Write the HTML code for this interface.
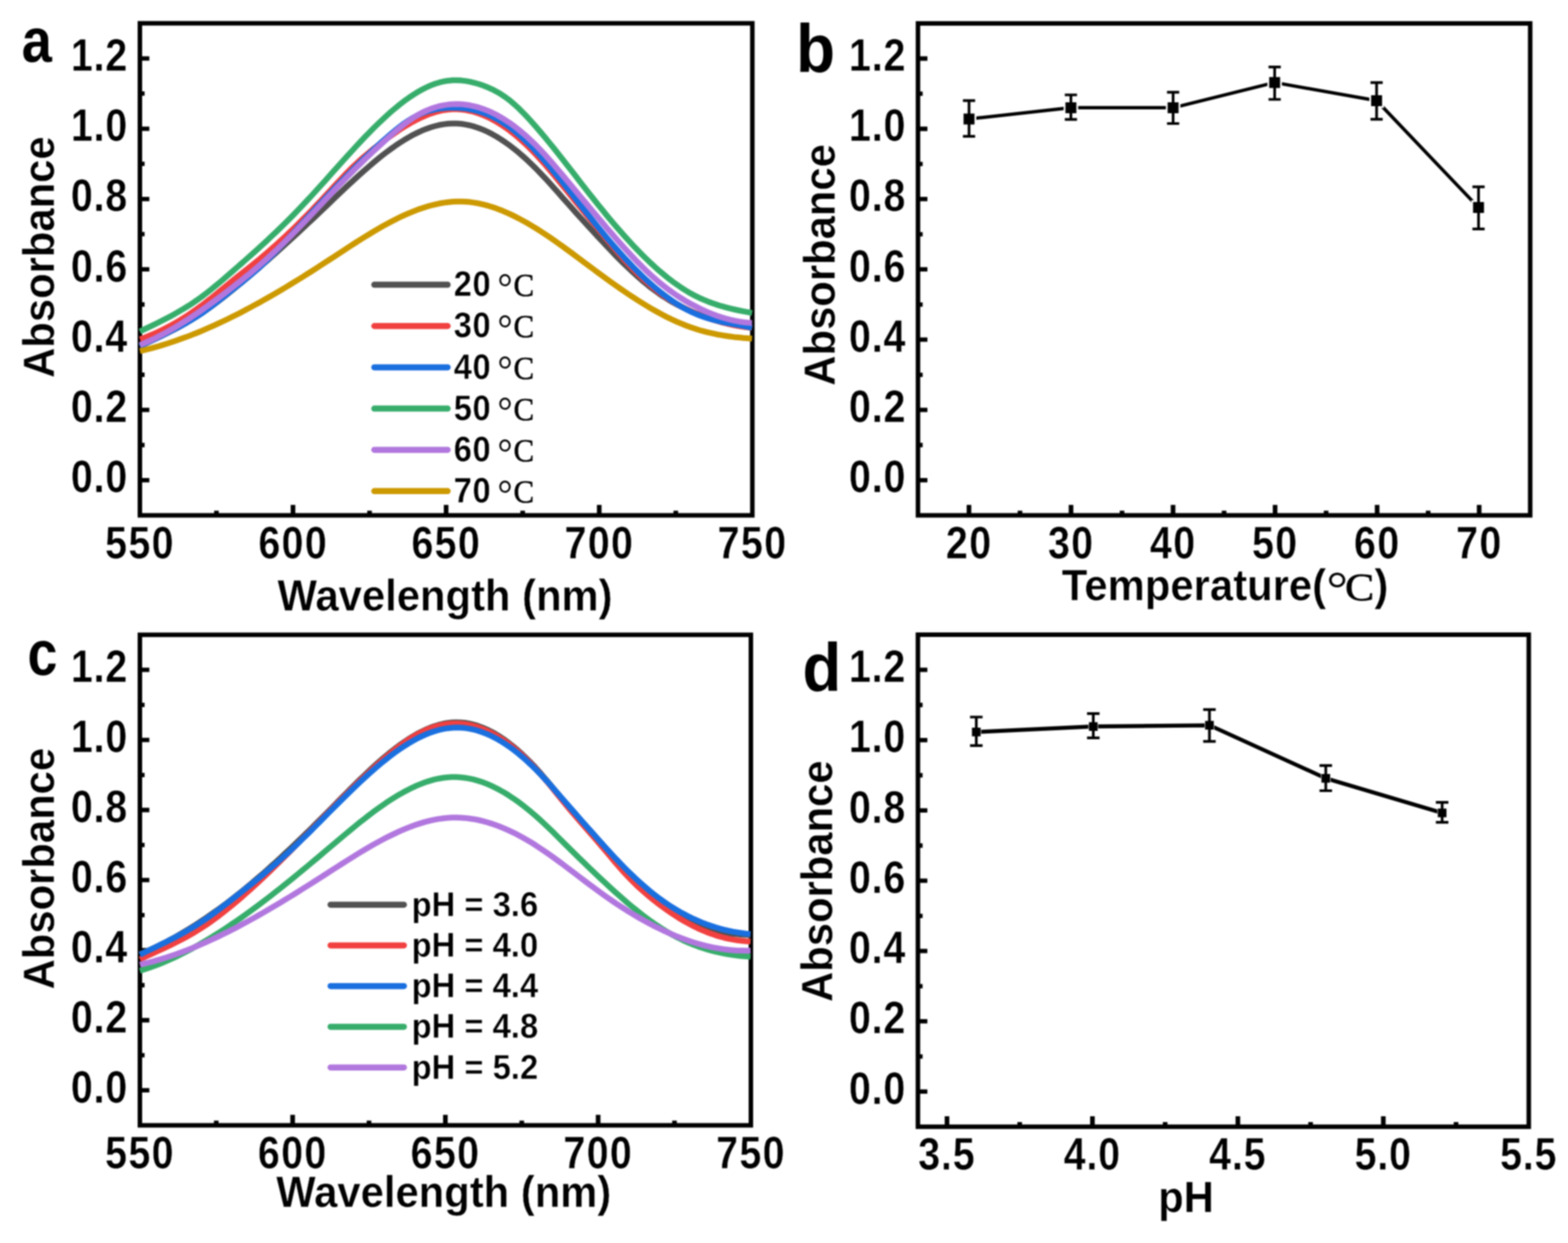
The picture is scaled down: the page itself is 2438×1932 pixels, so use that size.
<!DOCTYPE html>
<html lang="en">
<head>
<meta charset="utf-8">
<title>Absorbance vs temperature and pH</title>
<style>
html,body{margin:0;padding:0;background:#fff;}
body{width:2438px;height:1932px;overflow:hidden;}
svg{display:block;}
text{fill:#000;}
</style>
</head>
<body>
<svg xmlns="http://www.w3.org/2000/svg" width="2438" height="1932" viewBox="0 0 2438 1932">
<defs><filter id="soft" x="0" y="0" width="2438" height="1932" filterUnits="userSpaceOnUse" color-interpolation-filters="sRGB"><feGaussianBlur stdDeviation="0.85"/></filter></defs>
<rect width="2438" height="1932" fill="#fff"/>
<g filter="url(#soft)">
<rect width="2438" height="1932" fill="#fff"/>
<path d="M455.57 801V784.7M693.65 801V784.7M931.72 801V784.7M336.54 801V793.7M574.61 801V793.7M812.69 801V793.7M1050.76 801V793.7" stroke="#000" stroke-width="7.2" fill="none"/>
<path d="M217.5 746.37H232.2M217.5 691.74H224.8M217.5 637.11H232.2M217.5 582.49H224.8M217.5 527.86H232.2M217.5 473.23H224.8M217.5 418.6H232.2M217.5 363.97H224.8M217.5 309.34H232.2M217.5 254.71H224.8M217.5 200.09H232.2M217.5 145.46H224.8M217.5 90.83H232.2" stroke="#000" stroke-width="6.8" fill="none"/>
<rect x="217.5" y="36.2" width="952.3" height="764.8" fill="none" stroke="#000" stroke-width="7"/>
<path d="M217.5 538.2L224.3 535.0L231.2 531.7L238.0 528.5L244.9 525.2L251.7 521.9L258.6 518.5L265.4 515.0L272.3 511.4L279.1 507.7L286.0 503.9L292.8 499.9L299.7 495.8L306.5 491.5L313.4 487.0L320.2 482.3L327.1 477.4L333.9 472.4L340.8 467.2L347.6 461.9L354.4 456.4L361.3 450.9L368.1 445.3L375.0 439.7L381.8 434.0L388.7 428.2L395.5 422.4L402.4 416.5L409.2 410.5L416.1 404.5L422.9 398.4L429.8 392.3L436.6 386.2L443.5 380.0L450.3 373.7L457.2 367.4L464.0 361.1L470.9 354.7L477.7 348.3L484.6 341.9L491.4 335.4L498.2 328.9L505.1 322.4L511.9 315.9L518.8 309.3L525.6 302.8L532.5 296.3L539.3 289.8L546.2 283.4L553.0 277.1L559.9 270.9L566.7 264.8L573.6 258.8L580.4 253.0L587.3 247.3L594.1 241.8L601.0 236.5L607.8 231.5L614.7 226.6L621.5 222.0L628.3 217.7L635.2 213.6L642.0 209.8L648.9 206.4L655.7 203.2L662.6 200.4L669.4 198.0L676.3 196.0L683.1 194.3L690.0 193.1L696.8 192.3L703.7 191.9L710.5 192.0L717.4 192.5L724.2 193.6L731.1 195.0L737.9 196.9L744.8 199.2L751.6 201.9L758.5 205.0L765.3 208.6L772.1 212.4L779.0 216.7L785.8 221.3L792.7 226.2L799.5 231.5L806.4 237.1L813.2 243.0L820.1 249.2L826.9 255.7L833.8 262.5L840.6 269.6L847.5 276.8L854.3 284.3L861.2 291.9L868.0 299.6L874.9 307.4L881.7 315.1L888.6 322.8L895.4 330.5L902.2 338.0L909.1 345.6L915.9 353.1L922.8 360.5L929.6 367.9L936.5 375.2L943.3 382.5L950.2 389.7L957.0 396.8L963.9 403.7L970.7 410.5L977.6 417.1L984.4 423.5L991.3 429.7L998.1 435.7L1005.0 441.4L1011.8 446.9L1018.7 452.0L1025.5 456.9L1032.4 461.5L1039.2 465.8L1046.0 469.8L1052.9 473.5L1059.7 477.0L1066.6 480.3L1073.4 483.4L1080.3 486.3L1087.1 489.0L1094.0 491.6L1100.8 494.0L1107.7 496.3L1114.5 498.3L1121.4 500.3L1128.2 502.0L1135.1 503.6L1141.9 505.1L1148.8 506.4L1155.6 507.5L1162.5 508.5L1169.3 509.4" fill="none" stroke="#515151" stroke-width="9" stroke-linejoin="round"/>
<path d="M217.5 527.3L224.3 524.9L231.2 522.2L238.0 519.3L244.9 516.3L251.7 513.0L258.6 509.6L265.4 506.0L272.3 502.1L279.1 498.1L286.0 493.9L292.8 489.5L299.7 484.8L306.5 480.0L313.4 475.0L320.2 469.7L327.1 464.4L333.9 458.9L340.8 453.3L347.6 447.7L354.4 442.1L361.3 436.5L368.1 431.0L375.0 425.6L381.8 420.2L388.7 414.8L395.5 409.3L402.4 403.7L409.2 398.0L416.1 392.2L422.9 386.2L429.8 380.1L436.6 373.9L443.5 367.5L450.3 361.0L457.2 354.4L464.0 347.7L470.9 340.8L477.7 333.9L484.6 326.9L491.4 319.7L498.2 312.5L505.1 305.2L511.9 297.8L518.8 290.4L525.6 283.0L532.5 275.8L539.3 268.7L546.2 261.8L553.0 255.2L559.9 248.9L566.7 242.9L573.6 237.1L580.4 231.6L587.3 226.2L594.1 221.0L601.0 215.9L607.8 211.0L614.7 206.2L621.5 201.6L628.3 197.2L635.2 193.1L642.0 189.2L648.9 185.6L655.7 182.3L662.6 179.3L669.4 176.6L676.3 174.4L683.1 172.6L690.0 171.2L696.8 170.2L703.7 169.8L710.5 169.8L717.4 170.2L724.2 171.1L731.1 172.5L737.9 174.2L744.8 176.5L751.6 179.1L758.5 182.1L765.3 185.6L772.1 189.4L779.0 193.6L785.8 198.2L792.7 203.2L799.5 208.6L806.4 214.3L813.2 220.4L820.1 226.8L826.9 233.6L833.8 240.7L840.6 248.1L847.5 255.8L854.3 263.7L861.2 271.9L868.0 280.2L874.9 288.6L881.7 297.0L888.6 305.4L895.4 313.8L902.2 322.2L909.1 330.5L915.9 338.9L922.8 347.2L929.6 355.5L936.5 363.8L943.3 372.0L950.2 380.2L957.0 388.2L963.9 396.1L970.7 403.7L977.6 411.2L984.4 418.3L991.3 425.2L998.1 431.8L1005.0 438.0L1011.8 444.0L1018.7 449.6L1025.5 454.9L1032.4 459.9L1039.2 464.5L1046.0 468.8L1052.9 472.8L1059.7 476.6L1066.6 480.1L1073.4 483.4L1080.3 486.4L1087.1 489.3L1094.0 492.0L1100.8 494.5L1107.7 496.7L1114.5 498.8L1121.4 500.8L1128.2 502.5L1135.1 504.1L1141.9 505.5L1148.8 506.7L1155.6 507.8L1162.5 508.8L1169.3 509.5" fill="none" stroke="#F14040" stroke-width="9" stroke-linejoin="round"/>
<path d="M217.5 538.2L224.3 534.8L231.2 531.5L238.0 528.2L244.9 524.9L251.7 521.6L258.6 518.2L265.4 514.8L272.3 511.3L279.1 507.7L286.0 504.0L292.8 500.1L299.7 496.0L306.5 491.7L313.4 487.2L320.2 482.4L327.1 477.4L333.9 472.2L340.8 466.9L347.6 461.5L354.4 456.1L361.3 450.6L368.1 445.1L375.0 439.7L381.8 434.1L388.7 428.4L395.5 422.6L402.4 416.6L409.2 410.3L416.1 403.7L422.9 396.9L429.8 389.9L436.6 382.7L443.5 375.4L450.3 368.0L457.2 360.6L464.0 353.1L470.9 345.7L477.7 338.3L484.6 330.9L491.4 323.5L498.2 316.2L505.1 308.8L511.9 301.6L518.8 294.3L525.6 287.2L532.5 280.1L539.3 273.0L546.2 266.1L553.0 259.2L559.9 252.4L566.7 245.7L573.6 239.2L580.4 232.7L587.3 226.3L594.1 220.1L601.0 214.0L607.8 208.1L614.7 202.4L621.5 197.0L628.3 191.9L635.2 187.3L642.0 183.1L648.9 179.4L655.7 176.4L662.6 173.8L669.4 171.8L676.3 170.1L683.1 168.9L690.0 168.1L696.8 167.5L703.7 167.3L710.5 167.4L717.4 167.9L724.2 168.6L731.1 169.8L737.9 171.3L744.8 173.2L751.6 175.5L758.5 178.1L765.3 181.2L772.1 184.7L779.0 188.7L785.8 193.1L792.7 197.9L799.5 203.2L806.4 209.0L813.2 215.1L820.1 221.6L826.9 228.4L833.8 235.6L840.6 243.0L847.5 250.7L854.3 258.6L861.2 266.8L868.0 275.1L874.9 283.5L881.7 292.1L888.6 300.8L895.4 309.5L902.2 318.2L909.1 326.9L915.9 335.6L922.8 344.2L929.6 352.7L936.5 361.1L943.3 369.3L950.2 377.4L957.0 385.3L963.9 393.0L970.7 400.6L977.6 407.9L984.4 415.1L991.3 422.0L998.1 428.7L1005.0 435.2L1011.8 441.4L1018.7 447.3L1025.5 453.0L1032.4 458.4L1039.2 463.4L1046.0 468.2L1052.9 472.7L1059.7 476.8L1066.6 480.7L1073.4 484.1L1080.3 487.2L1087.1 490.0L1094.0 492.4L1100.8 494.6L1107.7 496.6L1114.5 498.4L1121.4 500.0L1128.2 501.5L1135.1 502.8L1141.9 504.1L1148.8 505.4L1155.6 506.7L1162.5 508.0L1169.3 509.4" fill="none" stroke="#1A6FDF" stroke-width="9" stroke-linejoin="round"/>
<path d="M217.5 515.2L224.3 511.9L231.2 508.7L238.0 505.4L244.9 502.0L251.7 498.5L258.6 495.0L265.4 491.4L272.3 487.6L279.1 483.7L286.0 479.6L292.8 475.4L299.7 470.9L306.5 466.3L313.4 461.4L320.2 456.2L327.1 450.9L333.9 445.3L340.8 439.6L347.6 433.8L354.4 427.9L361.3 422.0L368.1 416.0L375.0 410.0L381.8 404.0L388.7 397.9L395.5 391.8L402.4 385.6L409.2 379.4L416.1 373.1L422.9 366.6L429.8 360.1L436.6 353.5L443.5 346.8L450.3 340.0L457.2 333.0L464.0 325.9L470.9 318.7L477.7 311.4L484.6 304.0L491.4 296.5L498.2 289.0L505.1 281.4L511.9 273.8L518.8 266.1L525.6 258.5L532.5 250.8L539.3 243.2L546.2 235.7L553.0 228.3L559.9 220.9L566.7 213.7L573.6 206.6L580.4 199.7L587.3 192.9L594.1 186.4L601.0 180.0L607.8 173.9L614.7 168.1L621.5 162.5L628.3 157.2L635.2 152.3L642.0 147.7L648.9 143.4L655.7 139.5L662.6 136.0L669.4 132.9L676.3 130.3L683.1 128.2L690.0 126.5L696.8 125.4L703.7 124.8L710.5 124.7L717.4 125.1L724.2 125.9L731.1 127.2L737.9 128.8L744.8 130.8L751.6 133.1L758.5 135.8L765.3 138.8L772.1 142.4L779.0 146.4L785.8 151.0L792.7 156.2L799.5 162.0L806.4 168.3L813.2 175.1L820.1 182.2L826.9 189.7L833.8 197.5L840.6 205.5L847.5 213.6L854.3 222.0L861.2 230.4L868.0 239.0L874.9 247.7L881.7 256.5L888.6 265.3L895.4 274.1L902.2 282.9L909.1 291.7L915.9 300.4L922.8 309.1L929.6 317.7L936.5 326.2L943.3 334.6L950.2 342.8L957.0 350.9L963.9 358.8L970.7 366.5L977.6 374.1L984.4 381.5L991.3 388.7L998.1 395.6L1005.0 402.4L1011.8 408.9L1018.7 415.2L1025.5 421.3L1032.4 427.0L1039.2 432.6L1046.0 437.8L1052.9 442.7L1059.7 447.4L1066.6 451.7L1073.4 455.8L1080.3 459.4L1087.1 462.8L1094.0 465.9L1100.8 468.7L1107.7 471.3L1114.5 473.6L1121.4 475.7L1128.2 477.6L1135.1 479.4L1141.9 481.0L1148.8 482.5L1155.6 483.9L1162.5 485.2L1169.3 486.5" fill="none" stroke="#37AD6B" stroke-width="9" stroke-linejoin="round"/>
<path d="M217.5 536.2L224.3 533.4L231.2 530.4L238.0 527.2L244.9 523.8L251.7 520.3L258.6 516.6L265.4 512.8L272.3 508.8L279.1 504.7L286.0 500.4L292.8 496.1L299.7 491.6L306.5 487.0L313.4 482.2L320.2 477.4L327.1 472.5L333.9 467.5L340.8 462.4L347.6 457.3L354.4 452.0L361.3 446.7L368.1 441.4L375.0 436.0L381.8 430.5L388.7 424.9L395.5 419.2L402.4 413.3L409.2 407.3L416.1 401.2L422.9 394.9L429.8 388.5L436.6 382.0L443.5 375.3L450.3 368.5L457.2 361.6L464.0 354.6L470.9 347.5L477.7 340.4L484.6 333.2L491.4 326.0L498.2 318.7L505.1 311.4L511.9 304.1L518.8 296.9L525.6 289.7L532.5 282.6L539.3 275.5L546.2 268.5L553.0 261.6L559.9 254.9L566.7 248.2L573.6 241.7L580.4 235.3L587.3 228.9L594.1 222.6L601.0 216.4L607.8 210.3L614.7 204.4L621.5 198.7L628.3 193.3L635.2 188.2L642.0 183.5L648.9 179.2L655.7 175.4L662.6 172.1L669.4 169.3L676.3 167.0L683.1 165.0L690.0 163.6L696.8 162.6L703.7 162.0L710.5 161.8L717.4 162.1L724.2 162.7L731.1 163.8L737.9 165.3L744.8 167.2L751.6 169.5L758.5 172.1L765.3 175.2L772.1 178.6L779.0 182.5L785.8 186.7L792.7 191.2L799.5 196.2L806.4 201.5L813.2 207.2L820.1 213.2L826.9 219.6L833.8 226.3L840.6 233.4L847.5 240.8L854.3 248.5L861.2 256.3L868.0 264.4L874.9 272.5L881.7 280.7L888.6 288.9L895.4 297.1L902.2 305.3L909.1 313.5L915.9 321.7L922.8 329.8L929.6 337.9L936.5 346.0L943.3 354.1L950.2 362.0L957.0 369.9L963.9 377.7L970.7 385.3L977.6 392.8L984.4 400.1L991.3 407.3L998.1 414.2L1005.0 420.9L1011.8 427.3L1018.7 433.4L1025.5 439.3L1032.4 444.8L1039.2 450.0L1046.0 454.9L1052.9 459.6L1059.7 463.9L1066.6 468.1L1073.4 472.0L1080.3 475.6L1087.1 479.1L1094.0 482.3L1100.8 485.3L1107.7 488.1L1114.5 490.7L1121.4 493.0L1128.2 495.0L1135.1 496.8L1141.9 498.4L1148.8 499.7L1155.6 500.7L1162.5 501.5L1169.3 501.9" fill="none" stroke="#B177DE" stroke-width="9" stroke-linejoin="round"/>
<path d="M217.5 545.7L224.3 544.1L231.2 542.4L238.0 540.6L244.9 538.7L251.7 536.6L258.6 534.5L265.4 532.3L272.3 530.0L279.1 527.6L286.0 525.1L292.8 522.6L299.7 519.9L306.5 517.2L313.4 514.3L320.2 511.4L327.1 508.4L333.9 505.3L340.8 502.2L347.6 499.0L354.4 495.7L361.3 492.3L368.1 488.9L375.0 485.4L381.8 481.8L388.7 478.1L395.5 474.4L402.4 470.7L409.2 466.9L416.1 463.0L422.9 459.1L429.8 455.1L436.6 451.1L443.5 447.0L450.3 442.8L457.2 438.7L464.0 434.5L470.9 430.2L477.7 425.9L484.6 421.6L491.4 417.2L498.2 412.8L505.1 408.3L511.9 403.9L518.8 399.4L525.6 394.9L532.5 390.4L539.3 385.9L546.2 381.5L553.0 377.1L559.9 372.8L566.7 368.5L573.6 364.3L580.4 360.1L587.3 356.1L594.1 352.2L601.0 348.4L607.8 344.7L614.7 341.2L621.5 337.8L628.3 334.6L635.2 331.6L642.0 328.8L648.9 326.1L655.7 323.7L662.6 321.5L669.4 319.5L676.3 317.8L683.1 316.3L690.0 315.1L696.8 314.2L703.7 313.6L710.5 313.2L717.4 313.2L724.2 313.5L731.1 314.1L737.9 315.1L744.8 316.3L751.6 317.9L758.5 319.7L765.3 321.8L772.1 324.1L779.0 326.7L785.8 329.6L792.7 332.6L799.5 335.9L806.4 339.4L813.2 343.1L820.1 346.9L826.9 351.0L833.8 355.2L840.6 359.5L847.5 364.0L854.3 368.6L861.2 373.3L868.0 378.1L874.9 383.0L881.7 388.0L888.6 393.0L895.4 398.1L902.2 403.2L909.1 408.3L915.9 413.4L922.8 418.5L929.6 423.6L936.5 428.6L943.3 433.6L950.2 438.6L957.0 443.4L963.9 448.2L970.7 452.9L977.6 457.6L984.4 462.1L991.3 466.5L998.1 470.8L1005.0 475.0L1011.8 479.1L1018.7 483.0L1025.5 486.8L1032.4 490.4L1039.2 493.9L1046.0 497.2L1052.9 500.3L1059.7 503.2L1066.6 506.0L1073.4 508.5L1080.3 510.8L1087.1 513.0L1094.0 514.9L1100.8 516.7L1107.7 518.2L1114.5 519.7L1121.4 520.9L1128.2 522.0L1135.1 523.0L1141.9 523.9L1148.8 524.6L1155.6 525.3L1162.5 525.8L1169.3 526.3" fill="none" stroke="#CC9900" stroke-width="9" stroke-linejoin="round"/>
<text font-family='"Liberation Sans", sans-serif' font-size="66.5" font-weight="bold" text-anchor="end" letter-spacing="1.4" stroke="#fff" stroke-width="0.5" transform="translate(199.19 765.27) scale(0.92 1.055)">0.0</text>
<text font-family='"Liberation Sans", sans-serif' font-size="66.5" font-weight="bold" text-anchor="end" letter-spacing="1.4" stroke="#fff" stroke-width="0.5" transform="translate(199.19 656.01) scale(0.92 1.055)">0.2</text>
<text font-family='"Liberation Sans", sans-serif' font-size="66.5" font-weight="bold" text-anchor="end" letter-spacing="1.4" stroke="#fff" stroke-width="0.5" transform="translate(199.19 546.76) scale(0.92 1.055)">0.4</text>
<text font-family='"Liberation Sans", sans-serif' font-size="66.5" font-weight="bold" text-anchor="end" letter-spacing="1.4" stroke="#fff" stroke-width="0.5" transform="translate(199.19 437.5) scale(0.92 1.055)">0.6</text>
<text font-family='"Liberation Sans", sans-serif' font-size="66.5" font-weight="bold" text-anchor="end" letter-spacing="1.4" stroke="#fff" stroke-width="0.5" transform="translate(199.19 328.24) scale(0.92 1.055)">0.8</text>
<text font-family='"Liberation Sans", sans-serif' font-size="66.5" font-weight="bold" text-anchor="end" letter-spacing="1.4" stroke="#fff" stroke-width="0.5" transform="translate(199.19 218.99) scale(0.92 1.055)">1.0</text>
<text font-family='"Liberation Sans", sans-serif' font-size="66.5" font-weight="bold" text-anchor="end" letter-spacing="1.4" stroke="#fff" stroke-width="0.5" transform="translate(199.19 109.73) scale(0.92 1.055)">1.2</text>
<text font-family='"Liberation Sans", sans-serif' font-size="66.5" font-weight="bold" text-anchor="middle" letter-spacing="2.3" stroke="#fff" stroke-width="0.5" transform="translate(217.76 867.6) scale(0.92 1.055)">550</text>
<text font-family='"Liberation Sans", sans-serif' font-size="66.5" font-weight="bold" text-anchor="middle" letter-spacing="2.3" stroke="#fff" stroke-width="0.5" transform="translate(455.83 867.6) scale(0.92 1.055)">600</text>
<text font-family='"Liberation Sans", sans-serif' font-size="66.5" font-weight="bold" text-anchor="middle" letter-spacing="2.3" stroke="#fff" stroke-width="0.5" transform="translate(693.91 867.6) scale(0.92 1.055)">650</text>
<text font-family='"Liberation Sans", sans-serif' font-size="66.5" font-weight="bold" text-anchor="middle" letter-spacing="2.3" stroke="#fff" stroke-width="0.5" transform="translate(931.98 867.6) scale(0.92 1.055)">700</text>
<text font-family='"Liberation Sans", sans-serif' font-size="66.5" font-weight="bold" text-anchor="middle" letter-spacing="2.3" stroke="#fff" stroke-width="0.5" transform="translate(1170.06 867.6) scale(0.92 1.055)">750</text>
<text transform="translate(83.7 399.6) rotate(-90) scale(0.98 1.04)" font-family='"Liberation Sans", sans-serif' font-size="66.3" font-weight="bold" text-anchor="middle" stroke="#fff" stroke-width="0.5">Absorbance</text>
<text font-family='"Liberation Sans", sans-serif' font-size="66.3" font-weight="bold" text-anchor="middle" stroke="#fff" stroke-width="0.5" transform="translate(692 948.5) scale(0.98 1.04)">Wavelength (nm)</text>
<path d="M582 442.6H696" stroke="#515151" stroke-width="9.5" stroke-linecap="round"/>
<text font-family='"Liberation Sans", sans-serif' font-size="53.2" font-weight="bold" text-anchor="start" letter-spacing="1.2" stroke="#fff" stroke-width="0.5" transform="translate(705.5 460.2) scale(0.95 1.05)">20</text>
<text transform="translate(773.5 460.2) scale(1 1.04)" font-family='"Liberation Serif", serif' font-size="48" stroke="#000" stroke-width="0.7"><tspan font-size="58.56" dy="6.5" stroke-width="0">°</tspan><tspan dy="-6.5" dx="1.5">C</tspan></text>
<path d="M582 506.75H696" stroke="#F14040" stroke-width="9.5" stroke-linecap="round"/>
<text font-family='"Liberation Sans", sans-serif' font-size="53.2" font-weight="bold" text-anchor="start" letter-spacing="1.2" stroke="#fff" stroke-width="0.5" transform="translate(705.5 524.35) scale(0.95 1.05)">30</text>
<text transform="translate(773.5 524.35) scale(1 1.04)" font-family='"Liberation Serif", serif' font-size="48" stroke="#000" stroke-width="0.7"><tspan font-size="58.56" dy="6.5" stroke-width="0">°</tspan><tspan dy="-6.5" dx="1.5">C</tspan></text>
<path d="M582 570.9H696" stroke="#1A6FDF" stroke-width="9.5" stroke-linecap="round"/>
<text font-family='"Liberation Sans", sans-serif' font-size="53.2" font-weight="bold" text-anchor="start" letter-spacing="1.2" stroke="#fff" stroke-width="0.5" transform="translate(705.5 588.5) scale(0.95 1.05)">40</text>
<text transform="translate(773.5 588.5) scale(1 1.04)" font-family='"Liberation Serif", serif' font-size="48" stroke="#000" stroke-width="0.7"><tspan font-size="58.56" dy="6.5" stroke-width="0">°</tspan><tspan dy="-6.5" dx="1.5">C</tspan></text>
<path d="M582 635.05H696" stroke="#37AD6B" stroke-width="9.5" stroke-linecap="round"/>
<text font-family='"Liberation Sans", sans-serif' font-size="53.2" font-weight="bold" text-anchor="start" letter-spacing="1.2" stroke="#fff" stroke-width="0.5" transform="translate(705.5 652.65) scale(0.95 1.05)">50</text>
<text transform="translate(773.5 652.65) scale(1 1.04)" font-family='"Liberation Serif", serif' font-size="48" stroke="#000" stroke-width="0.7"><tspan font-size="58.56" dy="6.5" stroke-width="0">°</tspan><tspan dy="-6.5" dx="1.5">C</tspan></text>
<path d="M582 699.2H696" stroke="#B177DE" stroke-width="9.5" stroke-linecap="round"/>
<text font-family='"Liberation Sans", sans-serif' font-size="53.2" font-weight="bold" text-anchor="start" letter-spacing="1.2" stroke="#fff" stroke-width="0.5" transform="translate(705.5 716.8) scale(0.95 1.05)">60</text>
<text transform="translate(773.5 716.8) scale(1 1.04)" font-family='"Liberation Serif", serif' font-size="48" stroke="#000" stroke-width="0.7"><tspan font-size="58.56" dy="6.5" stroke-width="0">°</tspan><tspan dy="-6.5" dx="1.5">C</tspan></text>
<path d="M582 763.35H696" stroke="#CC9900" stroke-width="9.5" stroke-linecap="round"/>
<text font-family='"Liberation Sans", sans-serif' font-size="53.2" font-weight="bold" text-anchor="start" letter-spacing="1.2" stroke="#fff" stroke-width="0.5" transform="translate(705.5 780.95) scale(0.95 1.05)">70</text>
<text transform="translate(773.5 780.95) scale(1 1.04)" font-family='"Liberation Serif", serif' font-size="48" stroke="#000" stroke-width="0.7"><tspan font-size="58.56" dy="6.5" stroke-width="0">°</tspan><tspan dy="-6.5" dx="1.5">C</tspan></text>
<text font-family='"Liberation Sans", sans-serif' font-size="96.7" font-weight="bold" text-anchor="middle" transform="translate(57.1 95.6) scale(0.873 1)">a</text>
<path d="M1506.62 801V784.7M1665.27 801V784.7M1823.92 801V784.7M1982.57 801V784.7M2141.22 801V784.7M2299.88 801V784.7M1585.95 801V793.7M1744.6 801V793.7M1903.25 801V793.7M2061.9 801V793.7M2220.55 801V793.7" stroke="#000" stroke-width="7.2" fill="none"/>
<path d="M1427.3 746.39H1442M1427.3 691.77H1434.6M1427.3 637.16H1442M1427.3 582.54H1434.6M1427.3 527.93H1442M1427.3 473.31H1434.6M1427.3 418.7H1442M1427.3 364.09H1434.6M1427.3 309.47H1442M1427.3 254.86H1434.6M1427.3 200.24H1442M1427.3 145.63H1434.6M1427.3 91.01H1442" stroke="#000" stroke-width="6.8" fill="none"/>
<rect x="1427.3" y="36.4" width="951.9" height="764.6" fill="none" stroke="#000" stroke-width="7"/>
<path d="M1506.7 184.9L1665.1 167.4L1824 167.4L1981.9 128.3L2140.4 156.4L2298.9 322.6" fill="none" stroke="#000" stroke-width="5.2" stroke-linejoin="round"/>
<path d="M1495.4 173.6h22.6v22.6h-22.6zM1653.8 156.1h22.6v22.6h-22.6zM1812.7 156.1h22.6v22.6h-22.6zM1970.6 117h22.6v22.6h-22.6zM2129.1 145.1h22.6v22.6h-22.6zM2287.6 311.3h22.6v22.6h-22.6z" fill="#fff"/>
<path d="M1506.7 156.4V211.8M1497.2 156.4H1516.2M1497.2 211.8H1516.2M1665.1 147.5V185.6M1655.6 147.5H1674.6M1655.6 185.6H1674.6M1824 143.3V192M1814.5 143.3H1833.5M1814.5 192H1833.5M1981.9 104.2V154.5M1972.4 104.2H1991.4M1972.4 154.5H1991.4M2140.4 128.3V185.4M2130.9 128.3H2149.9M2130.9 185.4H2149.9M2298.9 290.3V355.8M2289.4 290.3H2308.4M2289.4 355.8H2308.4" fill="none" stroke="#000" stroke-width="4.2"/>
<path d="M1498.2 176.4h17v17h-17zM1656.6 158.9h17v17h-17zM1815.5 158.9h17v17h-17zM1973.4 119.8h17v17h-17zM2131.9 147.9h17v17h-17zM2290.4 314.1h17v17h-17z" fill="#000"/>
<text font-family='"Liberation Sans", sans-serif' font-size="66.5" font-weight="bold" text-anchor="end" letter-spacing="1.4" stroke="#fff" stroke-width="0.5" transform="translate(1408.99 765.29) scale(0.92 1.055)">0.0</text>
<text font-family='"Liberation Sans", sans-serif' font-size="66.5" font-weight="bold" text-anchor="end" letter-spacing="1.4" stroke="#fff" stroke-width="0.5" transform="translate(1408.99 656.06) scale(0.92 1.055)">0.2</text>
<text font-family='"Liberation Sans", sans-serif' font-size="66.5" font-weight="bold" text-anchor="end" letter-spacing="1.4" stroke="#fff" stroke-width="0.5" transform="translate(1408.99 546.83) scale(0.92 1.055)">0.4</text>
<text font-family='"Liberation Sans", sans-serif' font-size="66.5" font-weight="bold" text-anchor="end" letter-spacing="1.4" stroke="#fff" stroke-width="0.5" transform="translate(1408.99 437.6) scale(0.92 1.055)">0.6</text>
<text font-family='"Liberation Sans", sans-serif' font-size="66.5" font-weight="bold" text-anchor="end" letter-spacing="1.4" stroke="#fff" stroke-width="0.5" transform="translate(1408.99 328.37) scale(0.92 1.055)">0.8</text>
<text font-family='"Liberation Sans", sans-serif' font-size="66.5" font-weight="bold" text-anchor="end" letter-spacing="1.4" stroke="#fff" stroke-width="0.5" transform="translate(1408.99 219.14) scale(0.92 1.055)">1.0</text>
<text font-family='"Liberation Sans", sans-serif' font-size="66.5" font-weight="bold" text-anchor="end" letter-spacing="1.4" stroke="#fff" stroke-width="0.5" transform="translate(1408.99 109.91) scale(0.92 1.055)">1.2</text>
<text font-family='"Liberation Sans", sans-serif' font-size="66.5" font-weight="bold" text-anchor="middle" letter-spacing="2.3" stroke="#fff" stroke-width="0.5" transform="translate(1506.88 867.6) scale(0.92 1.055)">20</text>
<text font-family='"Liberation Sans", sans-serif' font-size="66.5" font-weight="bold" text-anchor="middle" letter-spacing="2.3" stroke="#fff" stroke-width="0.5" transform="translate(1665.53 867.6) scale(0.92 1.055)">30</text>
<text font-family='"Liberation Sans", sans-serif' font-size="66.5" font-weight="bold" text-anchor="middle" letter-spacing="2.3" stroke="#fff" stroke-width="0.5" transform="translate(1824.18 867.6) scale(0.92 1.055)">40</text>
<text font-family='"Liberation Sans", sans-serif' font-size="66.5" font-weight="bold" text-anchor="middle" letter-spacing="2.3" stroke="#fff" stroke-width="0.5" transform="translate(1982.83 867.6) scale(0.92 1.055)">50</text>
<text font-family='"Liberation Sans", sans-serif' font-size="66.5" font-weight="bold" text-anchor="middle" letter-spacing="2.3" stroke="#fff" stroke-width="0.5" transform="translate(2141.48 867.6) scale(0.92 1.055)">60</text>
<text font-family='"Liberation Sans", sans-serif' font-size="66.5" font-weight="bold" text-anchor="middle" letter-spacing="2.3" stroke="#fff" stroke-width="0.5" transform="translate(2300.13 867.6) scale(0.92 1.055)">70</text>
<text transform="translate(1298.1 411.7) rotate(-90) scale(0.98 1.04)" font-family='"Liberation Sans", sans-serif' font-size="66.3" font-weight="bold" text-anchor="middle" stroke="#fff" stroke-width="0.5">Absorbance</text>
<text font-family='"Liberation Sans", sans-serif' font-size="66.3" font-weight="bold" text-anchor="end" letter-spacing="0.05" stroke="#fff" stroke-width="0.5" transform="translate(2062 933) scale(0.98 1.04)">Temperature(</text>
<text transform="translate(2062.5 933) scale(1.1 1)" font-family='"Liberation Serif", serif' font-size="62" stroke="#000" stroke-width="0.9"><tspan font-size="75.64" dy="8" stroke-width="0">°</tspan><tspan dy="-8" dx="-4">C</tspan></text>
<text font-family='"Liberation Sans", sans-serif' font-size="66.3" font-weight="bold" text-anchor="start" stroke="#fff" stroke-width="0.5" transform="translate(2137 933) scale(0.98 1.04)">)</text>
<text font-family='"Liberation Sans", sans-serif' font-size="105" font-weight="bold" text-anchor="middle" transform="translate(1268 111.6) scale(0.945 1)">b</text>
<path d="M455 1749.1V1732.8M692.5 1749.1V1732.8M930 1749.1V1732.8M336.25 1749.1V1741.8M573.75 1749.1V1741.8M811.25 1749.1V1741.8M1048.75 1749.1V1741.8" stroke="#000" stroke-width="7.2" fill="none"/>
<path d="M217.5 1694.64H232.2M217.5 1640.19H224.8M217.5 1585.73H232.2M217.5 1531.27H224.8M217.5 1476.81H232.2M217.5 1422.36H224.8M217.5 1367.9H232.2M217.5 1313.44H224.8M217.5 1258.99H232.2M217.5 1204.53H224.8M217.5 1150.07H232.2M217.5 1095.61H224.8M217.5 1041.16H232.2" stroke="#000" stroke-width="6.8" fill="none"/>
<rect x="217.5" y="986.7" width="950" height="762.4" fill="none" stroke="#000" stroke-width="7"/>
<path d="M217.5 1483.0L224.3 1480.2L231.2 1477.2L238.0 1474.1L244.8 1470.8L251.7 1467.4L258.5 1463.9L265.3 1460.3L272.1 1456.6L279.0 1452.7L285.8 1448.7L292.6 1444.6L299.5 1440.4L306.3 1436.1L313.1 1431.6L320.0 1427.0L326.8 1422.3L333.6 1417.5L340.5 1412.6L347.3 1407.6L354.1 1402.5L360.9 1397.2L367.8 1391.9L374.6 1386.5L381.4 1380.9L388.3 1375.3L395.1 1369.5L401.9 1363.7L408.8 1357.8L415.6 1351.8L422.4 1345.7L429.3 1339.5L436.1 1333.3L442.9 1326.9L449.8 1320.5L456.6 1314.1L463.4 1307.5L470.2 1301.0L477.1 1294.3L483.9 1287.6L490.7 1280.8L497.6 1274.0L504.4 1267.2L511.2 1260.3L518.1 1253.3L524.9 1246.4L531.7 1239.5L538.6 1232.6L545.4 1225.8L552.2 1219.0L559.0 1212.3L565.9 1205.7L572.7 1199.2L579.5 1192.9L586.4 1186.7L593.2 1180.7L600.0 1174.9L606.9 1169.3L613.7 1163.9L620.5 1158.8L627.4 1154.0L634.2 1149.4L641.0 1145.1L647.8 1141.1L654.7 1137.5L661.5 1134.2L668.3 1131.3L675.2 1128.8L682.0 1126.7L688.8 1125.0L695.7 1123.8L702.5 1123.0L709.3 1122.7L716.2 1122.9L723.0 1123.5L729.8 1124.7L736.7 1126.3L743.5 1128.4L750.3 1130.9L757.1 1133.8L764.0 1137.2L770.8 1141.0L777.6 1145.2L784.5 1149.8L791.3 1154.9L798.1 1160.3L805.0 1166.0L811.8 1172.2L818.6 1178.7L825.5 1185.5L832.3 1192.7L839.1 1200.3L845.9 1208.1L852.8 1216.2L859.6 1224.3L866.4 1232.6L873.3 1240.8L880.1 1249.0L886.9 1256.9L893.8 1264.7L900.6 1272.3L907.4 1279.8L914.3 1287.3L921.1 1294.8L927.9 1302.4L934.7 1310.2L941.6 1318.0L948.4 1325.9L955.2 1333.7L962.1 1341.4L968.9 1349.0L975.7 1356.2L982.6 1363.1L989.4 1369.7L996.2 1376.0L1003.1 1381.9L1009.9 1387.7L1016.7 1393.2L1023.6 1398.6L1030.4 1404.0L1037.2 1409.2L1044.0 1414.2L1050.9 1419.1L1057.7 1423.7L1064.5 1427.9L1071.4 1431.9L1078.2 1435.4L1085.0 1438.5L1091.9 1441.2L1098.7 1443.5L1105.5 1445.5L1112.4 1447.2L1119.2 1448.6L1126.0 1449.8L1132.8 1450.7L1139.7 1451.5L1146.5 1452.1L1153.3 1452.7L1160.2 1453.1L1167.0 1453.5" fill="none" stroke="#515151" stroke-width="9" stroke-linejoin="round"/>
<path d="M217.5 1491.0L224.3 1487.9L231.2 1484.7L238.0 1481.6L244.8 1478.5L251.7 1475.3L258.5 1472.1L265.3 1468.9L272.1 1465.5L279.0 1462.0L285.8 1458.4L292.6 1454.7L299.5 1450.8L306.3 1446.7L313.1 1442.4L320.0 1438.0L326.8 1433.3L333.6 1428.4L340.5 1423.3L347.3 1418.0L354.1 1412.6L360.9 1407.0L367.8 1401.3L374.6 1395.5L381.4 1389.5L388.3 1383.4L395.1 1377.2L401.9 1370.9L408.8 1364.5L415.6 1358.0L422.4 1351.4L429.3 1344.8L436.1 1338.1L442.9 1331.3L449.8 1324.5L456.6 1317.6L463.4 1310.7L470.2 1303.7L477.1 1296.8L483.9 1289.8L490.7 1282.8L497.6 1275.8L504.4 1268.8L511.2 1261.8L518.1 1254.8L524.9 1247.9L531.7 1241.0L538.6 1234.2L545.4 1227.4L552.2 1220.7L559.0 1214.1L565.9 1207.6L572.7 1201.2L579.5 1194.9L586.4 1188.7L593.2 1182.6L600.0 1176.7L606.9 1171.0L613.7 1165.4L620.5 1160.1L627.4 1155.1L634.2 1150.3L641.0 1145.9L647.8 1141.9L654.7 1138.2L661.5 1135.0L668.3 1132.2L675.2 1129.8L682.0 1127.9L688.8 1126.4L695.7 1125.3L702.5 1124.7L709.3 1124.5L716.2 1124.8L723.0 1125.5L729.8 1126.7L736.7 1128.3L743.5 1130.4L750.3 1132.9L757.1 1135.8L764.0 1139.1L770.8 1142.9L777.6 1147.0L784.5 1151.6L791.3 1156.5L798.1 1161.9L805.0 1167.6L811.8 1173.7L818.6 1180.2L825.5 1187.0L832.3 1194.2L839.1 1201.8L845.9 1209.6L852.8 1217.7L859.6 1226.0L866.4 1234.4L873.3 1242.8L880.1 1251.1L886.9 1259.3L893.8 1267.3L900.6 1275.2L907.4 1283.1L914.3 1290.9L921.1 1298.7L927.9 1306.6L934.7 1314.6L941.6 1322.7L948.4 1330.7L955.2 1338.8L962.1 1346.7L968.9 1354.4L975.7 1361.8L982.6 1368.9L989.4 1375.6L996.2 1381.9L1003.1 1388.0L1009.9 1393.8L1016.7 1399.3L1023.6 1404.6L1030.4 1409.7L1037.2 1414.6L1044.0 1419.3L1050.9 1423.8L1057.7 1428.1L1064.5 1432.1L1071.4 1435.9L1078.2 1439.5L1085.0 1442.8L1091.9 1445.9L1098.7 1448.7L1105.5 1451.3L1112.4 1453.6L1119.2 1455.7L1126.0 1457.5L1132.8 1459.1L1139.7 1460.4L1146.5 1461.5L1153.3 1462.3L1160.2 1462.9L1167.0 1463.3" fill="none" stroke="#F14040" stroke-width="9" stroke-linejoin="round"/>
<path d="M217.5 1484.0L224.3 1480.6L231.2 1477.3L238.0 1474.0L244.8 1470.7L251.7 1467.3L258.5 1464.0L265.3 1460.5L272.1 1457.0L279.0 1453.3L285.8 1449.6L292.6 1445.7L299.5 1441.7L306.3 1437.4L313.1 1433.0L320.0 1428.4L326.8 1423.6L333.6 1418.7L340.5 1413.6L347.3 1408.4L354.1 1403.2L360.9 1397.9L367.8 1392.5L374.6 1387.2L381.4 1381.7L388.3 1376.3L395.1 1370.7L401.9 1365.2L408.8 1359.5L415.6 1353.7L422.4 1347.9L429.3 1342.0L436.1 1336.0L442.9 1329.8L449.8 1323.6L456.6 1317.2L463.4 1310.7L470.2 1304.1L477.1 1297.4L483.9 1290.7L490.7 1283.9L497.6 1277.0L504.4 1270.1L511.2 1263.2L518.1 1256.4L524.9 1249.5L531.7 1242.7L538.6 1236.0L545.4 1229.3L552.2 1222.7L559.0 1216.2L565.9 1209.9L572.7 1203.6L579.5 1197.6L586.4 1191.6L593.2 1185.9L600.0 1180.4L606.9 1175.0L613.7 1169.9L620.5 1165.1L627.4 1160.5L634.2 1156.1L641.0 1152.1L647.8 1148.3L654.7 1144.9L661.5 1141.8L668.3 1139.1L675.2 1136.7L682.0 1134.7L688.8 1133.1L695.7 1131.9L702.5 1131.2L709.3 1130.8L716.2 1131.0L723.0 1131.6L729.8 1132.6L736.7 1134.0L743.5 1135.9L750.3 1138.2L757.1 1140.9L764.0 1144.0L770.8 1147.4L777.6 1151.3L784.5 1155.6L791.3 1160.2L798.1 1165.2L805.0 1170.5L811.8 1176.2L818.6 1182.2L825.5 1188.6L832.3 1195.2L839.1 1202.2L845.9 1209.4L852.8 1216.8L859.6 1224.5L866.4 1232.2L873.3 1240.1L880.1 1247.9L886.9 1255.8L893.8 1263.6L900.6 1271.4L907.4 1279.2L914.3 1286.9L921.1 1294.6L927.9 1302.2L934.7 1309.8L941.6 1317.4L948.4 1324.8L955.2 1332.2L962.1 1339.4L968.9 1346.5L975.7 1353.4L982.6 1360.1L989.4 1366.5L996.2 1372.7L1003.1 1378.7L1009.9 1384.5L1016.7 1389.9L1023.6 1395.2L1030.4 1400.2L1037.2 1404.9L1044.0 1409.4L1050.9 1413.6L1057.7 1417.6L1064.5 1421.3L1071.4 1424.9L1078.2 1428.2L1085.0 1431.2L1091.9 1434.1L1098.7 1436.7L1105.5 1439.1L1112.4 1441.3L1119.2 1443.3L1126.0 1445.1L1132.8 1446.7L1139.7 1448.1L1146.5 1449.3L1153.3 1450.3L1160.2 1451.2L1167.0 1451.8" fill="none" stroke="#1A6FDF" stroke-width="9" stroke-linejoin="round"/>
<path d="M217.5 1509.0L224.3 1506.8L231.2 1504.5L238.0 1502.1L244.8 1499.5L251.7 1496.8L258.5 1493.9L265.3 1490.9L272.1 1487.8L279.0 1484.5L285.8 1481.1L292.6 1477.5L299.5 1473.9L306.3 1470.1L313.1 1466.2L320.0 1462.2L326.8 1458.1L333.6 1453.9L340.5 1449.6L347.3 1445.2L354.1 1440.7L360.9 1436.1L367.8 1431.4L374.6 1426.7L381.4 1421.8L388.3 1416.9L395.1 1411.9L401.9 1406.8L408.8 1401.7L415.6 1396.5L422.4 1391.2L429.3 1385.8L436.1 1380.5L442.9 1375.0L449.8 1369.5L456.6 1364.0L463.4 1358.4L470.2 1352.8L477.1 1347.1L483.9 1341.4L490.7 1335.7L497.6 1330.0L504.4 1324.2L511.2 1318.4L518.1 1312.6L524.9 1306.8L531.7 1301.1L538.6 1295.4L545.4 1289.7L552.2 1284.1L559.0 1278.6L565.9 1273.2L572.7 1267.9L579.5 1262.7L586.4 1257.7L593.2 1252.8L600.0 1248.1L606.9 1243.6L613.7 1239.3L620.5 1235.2L627.4 1231.3L634.2 1227.7L641.0 1224.3L647.8 1221.2L654.7 1218.4L661.5 1215.8L668.3 1213.6L675.2 1211.7L682.0 1210.2L688.8 1209.0L695.7 1208.2L702.5 1207.8L709.3 1207.8L716.2 1208.2L723.0 1209.0L729.8 1210.1L736.7 1211.7L743.5 1213.6L750.3 1215.8L757.1 1218.4L764.0 1221.4L770.8 1224.7L777.6 1228.3L784.5 1232.2L791.3 1236.4L798.1 1240.9L805.0 1245.7L811.8 1250.8L818.6 1256.2L825.5 1261.8L832.3 1267.6L839.1 1273.7L845.9 1280.0L852.8 1286.5L859.6 1293.1L866.4 1299.9L873.3 1306.7L880.1 1313.5L886.9 1320.3L893.8 1327.0L900.6 1333.7L907.4 1340.3L914.3 1346.9L921.1 1353.5L927.9 1360.0L934.7 1366.4L941.6 1372.8L948.4 1379.1L955.2 1385.3L962.1 1391.4L968.9 1397.4L975.7 1403.3L982.6 1409.1L989.4 1414.6L996.2 1420.1L1003.1 1425.3L1009.9 1430.3L1016.7 1435.2L1023.6 1439.8L1030.4 1444.2L1037.2 1448.3L1044.0 1452.2L1050.9 1455.9L1057.7 1459.3L1064.5 1462.6L1071.4 1465.6L1078.2 1468.3L1085.0 1470.9L1091.9 1473.3L1098.7 1475.4L1105.5 1477.4L1112.4 1479.1L1119.2 1480.7L1126.0 1482.1L1132.8 1483.3L1139.7 1484.4L1146.5 1485.3L1153.3 1486.0L1160.2 1486.6L1167.0 1487.1" fill="none" stroke="#37AD6B" stroke-width="9" stroke-linejoin="round"/>
<path d="M217.5 1499.3L224.3 1497.7L231.2 1496.1L238.0 1494.3L244.8 1492.4L251.7 1490.4L258.5 1488.2L265.3 1486.0L272.1 1483.7L279.0 1481.2L285.8 1478.7L292.6 1476.1L299.5 1473.3L306.3 1470.5L313.1 1467.6L320.0 1464.6L326.8 1461.5L333.6 1458.4L340.5 1455.1L347.3 1451.8L354.1 1448.4L360.9 1444.9L367.8 1441.4L374.6 1437.8L381.4 1434.1L388.3 1430.4L395.1 1426.6L401.9 1422.8L408.8 1418.9L415.6 1414.9L422.4 1410.9L429.3 1406.9L436.1 1402.8L442.9 1398.7L449.8 1394.5L456.6 1390.3L463.4 1386.1L470.2 1381.8L477.1 1377.5L483.9 1373.2L490.7 1368.9L497.6 1364.5L504.4 1360.1L511.2 1355.7L518.1 1351.3L524.9 1347.0L531.7 1342.6L538.6 1338.3L545.4 1334.0L552.2 1329.7L559.0 1325.5L565.9 1321.4L572.7 1317.4L579.5 1313.4L586.4 1309.6L593.2 1305.9L600.0 1302.3L606.9 1298.9L613.7 1295.6L620.5 1292.4L627.4 1289.4L634.2 1286.6L641.0 1284.0L647.8 1281.6L654.7 1279.4L661.5 1277.4L668.3 1275.7L675.2 1274.2L682.0 1272.9L688.8 1272.0L695.7 1271.3L702.5 1270.8L709.3 1270.7L716.2 1270.9L723.0 1271.4L729.8 1272.2L736.7 1273.2L743.5 1274.5L750.3 1276.1L757.1 1278.0L764.0 1280.1L770.8 1282.4L777.6 1285.0L784.5 1287.8L791.3 1290.9L798.1 1294.1L805.0 1297.6L811.8 1301.3L818.6 1305.1L825.5 1309.2L832.3 1313.4L839.1 1317.9L845.9 1322.5L852.8 1327.2L859.6 1332.0L866.4 1337.0L873.3 1342.0L880.1 1347.2L886.9 1352.3L893.8 1357.5L900.6 1362.7L907.4 1367.9L914.3 1373.1L921.1 1378.2L927.9 1383.2L934.7 1388.2L941.6 1393.1L948.4 1397.8L955.2 1402.5L962.1 1407.0L968.9 1411.4L975.7 1415.8L982.6 1420.0L989.4 1424.0L996.2 1428.0L1003.1 1431.8L1009.9 1435.5L1016.7 1439.1L1023.6 1442.5L1030.4 1445.8L1037.2 1448.9L1044.0 1451.9L1050.9 1454.8L1057.7 1457.5L1064.5 1460.0L1071.4 1462.4L1078.2 1464.7L1085.0 1466.7L1091.9 1468.6L1098.7 1470.3L1105.5 1471.9L1112.4 1473.3L1119.2 1474.4L1126.0 1475.5L1132.8 1476.3L1139.7 1476.9L1146.5 1477.4L1153.3 1477.6L1160.2 1477.7L1167.0 1477.5" fill="none" stroke="#B177DE" stroke-width="9" stroke-linejoin="round"/>
<text font-family='"Liberation Sans", sans-serif' font-size="66.5" font-weight="bold" text-anchor="end" letter-spacing="1.4" stroke="#fff" stroke-width="0.5" transform="translate(199.19 1713.54) scale(0.92 1.055)">0.0</text>
<text font-family='"Liberation Sans", sans-serif' font-size="66.5" font-weight="bold" text-anchor="end" letter-spacing="1.4" stroke="#fff" stroke-width="0.5" transform="translate(199.19 1604.63) scale(0.92 1.055)">0.2</text>
<text font-family='"Liberation Sans", sans-serif' font-size="66.5" font-weight="bold" text-anchor="end" letter-spacing="1.4" stroke="#fff" stroke-width="0.5" transform="translate(199.19 1495.71) scale(0.92 1.055)">0.4</text>
<text font-family='"Liberation Sans", sans-serif' font-size="66.5" font-weight="bold" text-anchor="end" letter-spacing="1.4" stroke="#fff" stroke-width="0.5" transform="translate(199.19 1386.8) scale(0.92 1.055)">0.6</text>
<text font-family='"Liberation Sans", sans-serif' font-size="66.5" font-weight="bold" text-anchor="end" letter-spacing="1.4" stroke="#fff" stroke-width="0.5" transform="translate(199.19 1277.89) scale(0.92 1.055)">0.8</text>
<text font-family='"Liberation Sans", sans-serif' font-size="66.5" font-weight="bold" text-anchor="end" letter-spacing="1.4" stroke="#fff" stroke-width="0.5" transform="translate(199.19 1168.97) scale(0.92 1.055)">1.0</text>
<text font-family='"Liberation Sans", sans-serif' font-size="66.5" font-weight="bold" text-anchor="end" letter-spacing="1.4" stroke="#fff" stroke-width="0.5" transform="translate(199.19 1060.06) scale(0.92 1.055)">1.2</text>
<text font-family='"Liberation Sans", sans-serif' font-size="66.5" font-weight="bold" text-anchor="middle" letter-spacing="2.3" stroke="#fff" stroke-width="0.5" transform="translate(217.76 1815.7) scale(0.92 1.055)">550</text>
<text font-family='"Liberation Sans", sans-serif' font-size="66.5" font-weight="bold" text-anchor="middle" letter-spacing="2.3" stroke="#fff" stroke-width="0.5" transform="translate(455.26 1815.7) scale(0.92 1.055)">600</text>
<text font-family='"Liberation Sans", sans-serif' font-size="66.5" font-weight="bold" text-anchor="middle" letter-spacing="2.3" stroke="#fff" stroke-width="0.5" transform="translate(692.76 1815.7) scale(0.92 1.055)">650</text>
<text font-family='"Liberation Sans", sans-serif' font-size="66.5" font-weight="bold" text-anchor="middle" letter-spacing="2.3" stroke="#fff" stroke-width="0.5" transform="translate(930.26 1815.7) scale(0.92 1.055)">700</text>
<text font-family='"Liberation Sans", sans-serif' font-size="66.5" font-weight="bold" text-anchor="middle" letter-spacing="2.3" stroke="#fff" stroke-width="0.5" transform="translate(1167.76 1815.7) scale(0.92 1.055)">750</text>
<text transform="translate(83.9 1350.1) rotate(-90) scale(0.98 1.04)" font-family='"Liberation Sans", sans-serif' font-size="66.3" font-weight="bold" text-anchor="middle" stroke="#fff" stroke-width="0.5">Absorbance</text>
<text font-family='"Liberation Sans", sans-serif' font-size="66.3" font-weight="bold" text-anchor="middle" stroke="#fff" stroke-width="0.5" transform="translate(690 1876.4) scale(0.98 1.04)">Wavelength (nm)</text>
<path d="M514 1406.2H628" stroke="#515151" stroke-width="9.5" stroke-linecap="round"/>
<text font-family='"Liberation Sans", sans-serif' font-size="52" font-weight="bold" text-anchor="start" stroke="#fff" stroke-width="0.5" transform="translate(640 1423.6) scale(0.98 1.04)">pH = 3.6</text>
<path d="M514 1469.45H628" stroke="#F14040" stroke-width="9.5" stroke-linecap="round"/>
<text font-family='"Liberation Sans", sans-serif' font-size="52" font-weight="bold" text-anchor="start" stroke="#fff" stroke-width="0.5" transform="translate(640 1486.85) scale(0.98 1.04)">pH = 4.0</text>
<path d="M514 1532.7H628" stroke="#1A6FDF" stroke-width="9.5" stroke-linecap="round"/>
<text font-family='"Liberation Sans", sans-serif' font-size="52" font-weight="bold" text-anchor="start" stroke="#fff" stroke-width="0.5" transform="translate(640 1550.1) scale(0.98 1.04)">pH = 4.4</text>
<path d="M514 1595.95H628" stroke="#37AD6B" stroke-width="9.5" stroke-linecap="round"/>
<text font-family='"Liberation Sans", sans-serif' font-size="52" font-weight="bold" text-anchor="start" stroke="#fff" stroke-width="0.5" transform="translate(640 1613.35) scale(0.98 1.04)">pH = 4.8</text>
<path d="M514 1659.2H628" stroke="#B177DE" stroke-width="9.5" stroke-linecap="round"/>
<text font-family='"Liberation Sans", sans-serif' font-size="52" font-weight="bold" text-anchor="start" stroke="#fff" stroke-width="0.5" transform="translate(640 1676.6) scale(0.98 1.04)">pH = 5.2</text>
<text font-family='"Liberation Sans", sans-serif' font-size="98.3" font-weight="bold" text-anchor="middle" transform="translate(66 1048.6) scale(0.85 1)">c</text>
<path d="M1472.43 1751.3V1735M1698.57 1751.3V1735M1924.71 1751.3V1735M2150.86 1751.3V1735M1585.5 1751.3V1744M1811.64 1751.3V1744M2037.79 1751.3V1744M2263.93 1751.3V1744" stroke="#000" stroke-width="7.2" fill="none"/>
<path d="M1427.2 1696.67H1441.9M1427.2 1642.04H1434.5M1427.2 1587.41H1441.9M1427.2 1532.79H1434.5M1427.2 1478.16H1441.9M1427.2 1423.53H1434.5M1427.2 1368.9H1441.9M1427.2 1314.27H1434.5M1427.2 1259.64H1441.9M1427.2 1205.01H1434.5M1427.2 1150.39H1441.9M1427.2 1095.76H1434.5M1427.2 1041.13H1441.9" stroke="#000" stroke-width="6.8" fill="none"/>
<rect x="1427.2" y="986.5" width="949.8" height="764.8" fill="none" stroke="#000" stroke-width="7"/>
<path d="M1518 1137.8L1699.9 1129.2L1880.5 1127.3L2061.4 1209.7L2242.3 1263.5" fill="none" stroke="#000" stroke-width="6.2" stroke-linejoin="round"/>
<path d="M1510.45 1130.25h15.1v15.1h-15.1zM1692.35 1121.65h15.1v15.1h-15.1zM1872.95 1119.75h15.1v15.1h-15.1zM2053.85 1202.15h15.1v15.1h-15.1zM2234.75 1255.95h15.1v15.1h-15.1z" fill="#fff"/>
<path d="M1518 1114.5V1158.8M1508.25 1114.5H1527.75M1508.25 1158.8H1527.75M1699.9 1109.1V1146.9M1690.15 1109.1H1709.65M1690.15 1146.9H1709.65M1880.5 1102.8V1152.3M1870.75 1102.8H1890.25M1870.75 1152.3H1890.25M2061.4 1189.9V1229M2051.65 1189.9H2071.15M2051.65 1229H2071.15M2242.3 1247.2V1278.2M2232.55 1247.2H2252.05M2232.55 1278.2H2252.05" fill="none" stroke="#000" stroke-width="4.2"/>
<path d="M1511.25 1131.05h13.5v13.5h-13.5zM1693.15 1122.45h13.5v13.5h-13.5zM1873.75 1120.55h13.5v13.5h-13.5zM2054.65 1202.95h13.5v13.5h-13.5zM2235.55 1256.75h13.5v13.5h-13.5z" fill="#000"/>
<text font-family='"Liberation Sans", sans-serif' font-size="66.5" font-weight="bold" text-anchor="end" letter-spacing="1.4" stroke="#fff" stroke-width="0.5" transform="translate(1408.89 1715.57) scale(0.92 1.055)">0.0</text>
<text font-family='"Liberation Sans", sans-serif' font-size="66.5" font-weight="bold" text-anchor="end" letter-spacing="1.4" stroke="#fff" stroke-width="0.5" transform="translate(1408.89 1606.31) scale(0.92 1.055)">0.2</text>
<text font-family='"Liberation Sans", sans-serif' font-size="66.5" font-weight="bold" text-anchor="end" letter-spacing="1.4" stroke="#fff" stroke-width="0.5" transform="translate(1408.89 1497.06) scale(0.92 1.055)">0.4</text>
<text font-family='"Liberation Sans", sans-serif' font-size="66.5" font-weight="bold" text-anchor="end" letter-spacing="1.4" stroke="#fff" stroke-width="0.5" transform="translate(1408.89 1387.8) scale(0.92 1.055)">0.6</text>
<text font-family='"Liberation Sans", sans-serif' font-size="66.5" font-weight="bold" text-anchor="end" letter-spacing="1.4" stroke="#fff" stroke-width="0.5" transform="translate(1408.89 1278.54) scale(0.92 1.055)">0.8</text>
<text font-family='"Liberation Sans", sans-serif' font-size="66.5" font-weight="bold" text-anchor="end" letter-spacing="1.4" stroke="#fff" stroke-width="0.5" transform="translate(1408.89 1169.29) scale(0.92 1.055)">1.0</text>
<text font-family='"Liberation Sans", sans-serif' font-size="66.5" font-weight="bold" text-anchor="end" letter-spacing="1.4" stroke="#fff" stroke-width="0.5" transform="translate(1408.89 1060.03) scale(0.92 1.055)">1.2</text>
<text font-family='"Liberation Sans", sans-serif' font-size="66.5" font-weight="bold" text-anchor="middle" letter-spacing="1.4" stroke="#fff" stroke-width="0.5" transform="translate(1472.27 1817.9) scale(0.92 1.055)">3.5</text>
<text font-family='"Liberation Sans", sans-serif' font-size="66.5" font-weight="bold" text-anchor="middle" letter-spacing="1.4" stroke="#fff" stroke-width="0.5" transform="translate(1698.42 1817.9) scale(0.92 1.055)">4.0</text>
<text font-family='"Liberation Sans", sans-serif' font-size="66.5" font-weight="bold" text-anchor="middle" letter-spacing="1.4" stroke="#fff" stroke-width="0.5" transform="translate(1924.56 1817.9) scale(0.92 1.055)">4.5</text>
<text font-family='"Liberation Sans", sans-serif' font-size="66.5" font-weight="bold" text-anchor="middle" letter-spacing="1.4" stroke="#fff" stroke-width="0.5" transform="translate(2150.7 1817.9) scale(0.92 1.055)">5.0</text>
<text font-family='"Liberation Sans", sans-serif' font-size="66.5" font-weight="bold" text-anchor="middle" letter-spacing="1.4" stroke="#fff" stroke-width="0.5" transform="translate(2376.84 1817.9) scale(0.92 1.055)">5.5</text>
<text transform="translate(1293.6 1369.6) rotate(-90) scale(0.98 1.04)" font-family='"Liberation Sans", sans-serif' font-size="66.3" font-weight="bold" text-anchor="middle" stroke="#fff" stroke-width="0.5">Absorbance</text>
<text font-family='"Liberation Sans", sans-serif' font-size="66.3" font-weight="bold" text-anchor="middle" stroke="#fff" stroke-width="0.5" transform="translate(1844 1883.6) scale(0.98 1.04)">pH</text>
<text font-family='"Liberation Sans", sans-serif' font-size="105" font-weight="bold" text-anchor="middle" transform="translate(1278 1073.8) scale(0.94 1)">d</text>
</g>
</svg>
</body>
</html>
